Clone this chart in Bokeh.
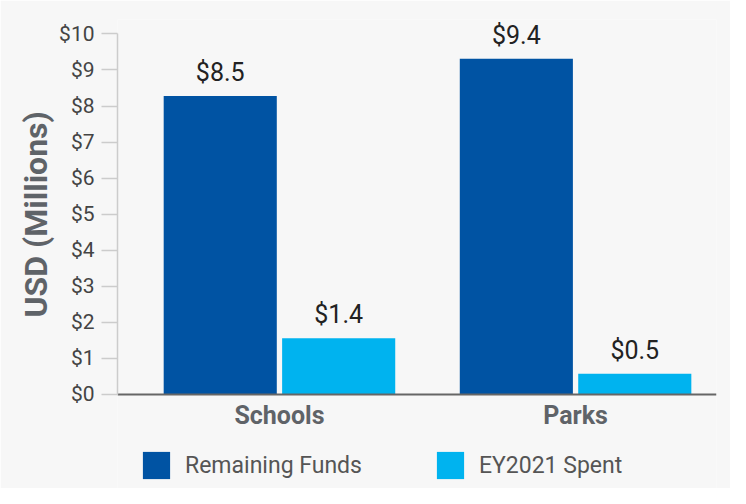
from bokeh.plotting import figure
from bokeh.models import ColumnDataSource, Range1d, FixedTicker, NumeralTickFormatter, Legend, LegendItem, Title
from bokeh.core.properties import value
from bokeh.embed import file_html
from bokeh.resources import INLINE

categories = ["Schools", "Parks"]
series = ["Remaining Funds", "EY2021 Spent"]
remaining = [8.28, 9.31]
spent = [1.56, 0.575]
remaining_labels = ["$8.5", "$9.4"]
spent_labels = ["$1.4", "$0.5"]
y_ticks = list(range(0, 11))
y_title = "USD (Millions)"

DARK = "#0053a3"
LIGHT = "#00b3ef"
BG = "#f7f7f7"
FONT = "Roboto"

xs = list(range(len(categories)))
src_r = ColumnDataSource(dict(x=[i - 0.2 for i in xs], top=remaining, lab=remaining_labels))
src_s = ColumnDataSource(dict(x=[i + 0.2 for i in xs], top=spent, lab=spent_labels))

p = figure(width=730, height=488, output_backend="svg", toolbar_location=None,
           x_range=Range1d(-0.547, 1.476), y_range=Range1d(-2.607, 10.40),
           min_border_left=117, min_border_right=14, min_border_top=19, min_border_bottom=0)
p.background_fill_color = BG
p.border_fill_color = BG
p.outline_line_color = None
p.xgrid.visible = False
p.ygrid.visible = False

r1 = p.vbar(x="x", top="top", width=0.382, source=src_r, fill_color=DARK, line_color=None)
r2 = p.vbar(x="x", top="top", width=0.382, source=src_s, fill_color=LIGHT, line_color=None)

for src in (src_r, src_s):
    p.text(x="x", y="top", text="lab", source=src, text_align="center", text_baseline="bottom",
           y_offset=-9, text_font=value(FONT), text_font_size="25px", text_color="#222222")

# y axis
ya = p.yaxis[0]
ya.bounds = (0, 10)
ya.ticker = FixedTicker(ticks=y_ticks)
ya.formatter = NumeralTickFormatter(format="$0")
ya.axis_line_color = "#cccccc"
ya.axis_line_width = 1.5
ya.major_tick_line_color = "#cccccc"
ya.major_tick_line_width = 1.5
ya.major_tick_out = 16
ya.major_tick_in = 0
ya.minor_tick_line_color = None
ya.major_label_standoff = 7
ya.major_label_text_font = FONT
ya.major_label_text_font_size = "21px"
ya.major_label_text_color = "#444444"

# y axis title, placed along the 0..10 span
yt = Title(text=y_title, align="left", offset=171, text_font=FONT, text_font_size="32px",
           text_font_style="bold", text_color="#5f6368", standoff=4)
p.add_layout(yt, "left")

# x axis, drawn at y = 0
xa = p.xaxis[0]
xa.fixed_location = 0
xa.ticker = FixedTicker(ticks=xs)
xa.major_label_overrides = {i: c for i, c in zip(xs, categories)}
xa.axis_line_color = "#666666"
xa.axis_line_width = 2
xa.major_tick_line_color = None
xa.major_tick_out = 0
xa.major_tick_in = 0
xa.minor_tick_line_color = None
xa.major_label_standoff = 7
xa.major_label_text_font = FONT
xa.major_label_text_font_size = "25px"
xa.major_label_text_font_style = "bold"
xa.major_label_text_color = "#5f6368"

legend = Legend(items=[LegendItem(label=series[0], renderers=[r1]),
                       LegendItem(label=series[1], renderers=[r2])],
                orientation="horizontal", location=(22, 6),
                glyph_width=34, glyph_height=34, label_standoff=12, spacing=71,
                label_text_font=FONT, label_text_font_size="23px", label_text_color="#555555",
                background_fill_alpha=0, border_line_color=None, padding=0, margin=0)
p.add_layout(legend, "center")

open("out.html", "w").write(file_html(p, INLINE))
